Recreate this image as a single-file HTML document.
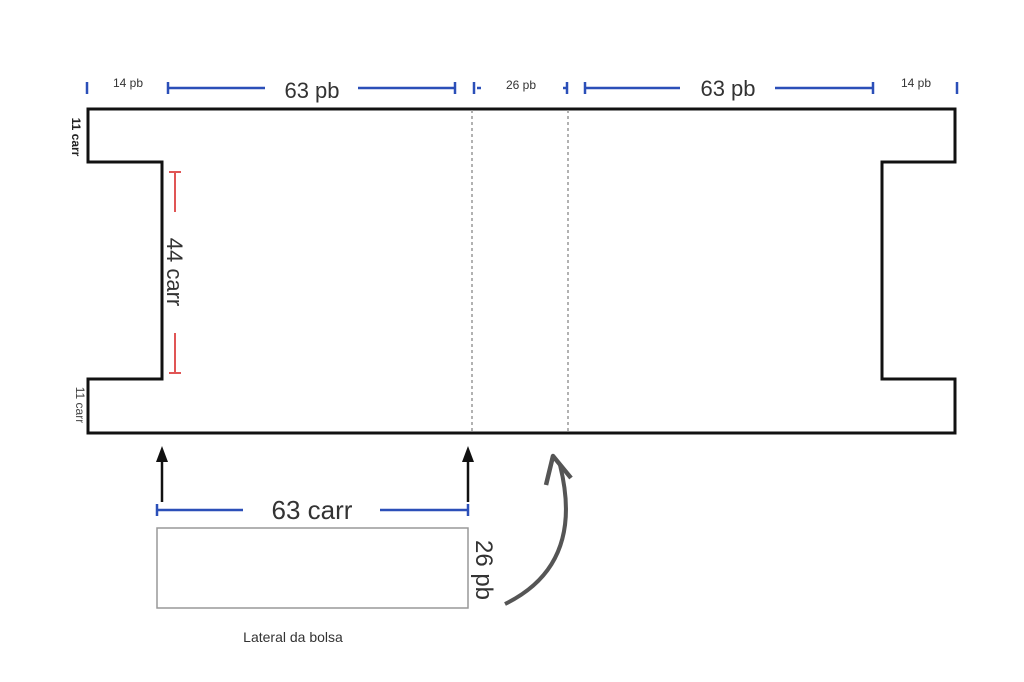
<!DOCTYPE html>
<html><head><meta charset="utf-8"><style>html,body{margin:0;padding:0;background:#fff}svg{display:block}</style></head>
<body>
<svg width="1024" height="682" viewBox="0 0 1024 682" xmlns="http://www.w3.org/2000/svg" font-family="Liberation Sans, sans-serif">
<rect width="1024" height="682" fill="#fff"/>
<path d="M88,109 L955,109 L955,162 L882,162 L882,379 L955,379 L955,433 L88,433 L88,379 L162,379 L162,162 L88,162 Z" fill="none" stroke="#111" stroke-width="3"/>
<line x1="472" y1="110" x2="472" y2="432" stroke="#999" stroke-width="1.5" stroke-dasharray="3,3"/>
<line x1="568" y1="110" x2="568" y2="432" stroke="#999" stroke-width="1.5" stroke-dasharray="3,3"/>
<g stroke="#2b4fb8" stroke-width="2.5" fill="none">
<line x1="87" y1="82" x2="87" y2="94"/>
<line x1="168" y1="82" x2="168" y2="94"/><line x1="168" y1="88" x2="265" y2="88"/>
<line x1="358" y1="88" x2="455" y2="88"/><line x1="455" y1="82" x2="455" y2="94"/>
<line x1="474" y1="82" x2="474" y2="94"/><line x1="477" y1="88" x2="481" y2="88"/>
<line x1="563" y1="88" x2="567" y2="88"/><line x1="567" y1="82" x2="567" y2="94"/>
<line x1="585" y1="82" x2="585" y2="94"/><line x1="585" y1="88" x2="680" y2="88"/>
<line x1="775" y1="88" x2="873" y2="88"/><line x1="873" y1="82" x2="873" y2="94"/>
<line x1="957" y1="82" x2="957" y2="94"/>
<line x1="157" y1="504" x2="157" y2="516"/><line x1="157" y1="510" x2="243" y2="510"/>
<line x1="380" y1="510" x2="468" y2="510"/><line x1="468" y1="504" x2="468" y2="516"/>
</g>
<g fill="#333">
<text x="128" y="87" font-size="12" text-anchor="middle">14 pb</text>
<text x="312" y="98" font-size="22" text-anchor="middle">63 pb</text>
<text x="521" y="89" font-size="12" text-anchor="middle">26 pb</text>
<text x="728" y="96" font-size="22" text-anchor="middle">63 pb</text>
<text x="916" y="87" font-size="12" text-anchor="middle">14 pb</text>
<text x="312" y="519" font-size="26" text-anchor="middle">63 carr</text>
<text x="293" y="642" font-size="14" text-anchor="middle">Lateral da bolsa</text>
</g>
<text transform="translate(72,137) rotate(90)" font-size="12" font-weight="bold" fill="#222" text-anchor="middle">11 carr</text>
<text transform="translate(76,405) rotate(90)" font-size="12" fill="#444" text-anchor="middle">11 carr</text>
<g stroke="#e05555" stroke-width="2">
<line x1="175" y1="172" x2="175" y2="212"/><line x1="169" y1="172" x2="181" y2="172"/>
<line x1="175" y1="333" x2="175" y2="373"/><line x1="169" y1="373" x2="181" y2="373"/>
</g>
<text transform="translate(167,272) rotate(90)" font-size="22" fill="#333" text-anchor="middle">44 carr</text>
<rect x="157" y="528" width="311" height="80" fill="none" stroke="#999" stroke-width="1.5"/>
<text transform="translate(476,570) rotate(90)" font-size="24" fill="#333" text-anchor="middle">26 pb</text>
<g stroke="#111" stroke-width="2.5" fill="#111">
<line x1="162" y1="502" x2="162" y2="458"/><path d="M156,462 L162,446 L168,462 Z" stroke="none"/>
<line x1="468" y1="502" x2="468" y2="458"/><path d="M462,462 L468,446 L474,462 Z" stroke="none"/>
</g>
<path d="M505,604 Q585,565 560,465" fill="none" stroke="#555" stroke-width="4"/>
<path d="M546,485 L553,456 L571,478" fill="none" stroke="#555" stroke-width="4.5" stroke-linejoin="round"/>
</svg>
</body></html>
